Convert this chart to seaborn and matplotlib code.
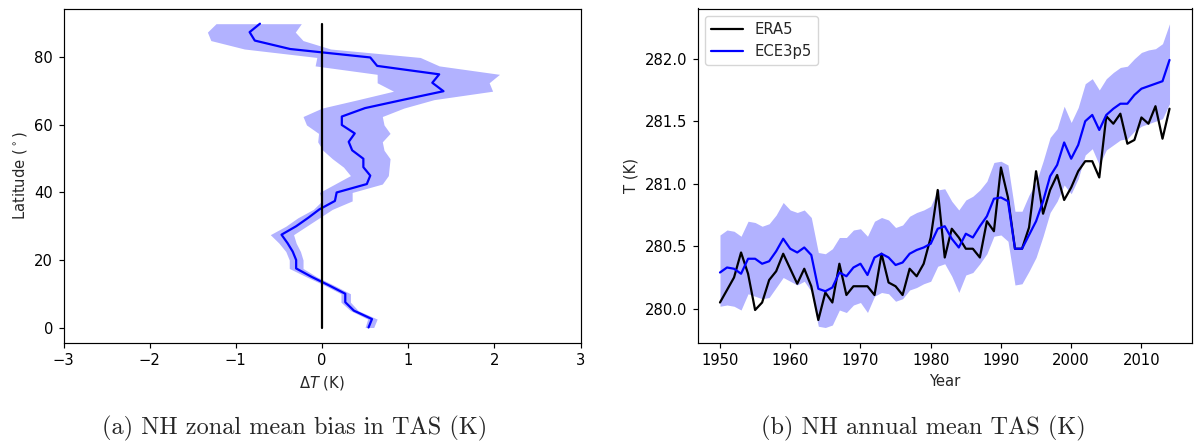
import numpy as np
import pandas as pd
import matplotlib
matplotlib.use("Agg")
import matplotlib.pyplot as plt
import seaborn as sns

# ---- Panel (a): zonal mean bias profile ----
lat = [0, 2.5, 5, 7.5, 10, 12.5, 15, 17.5, 20, 22.5, 25, 27.5, 30, 32.5, 35, 37.5,
       40, 42.5, 45, 47.5, 50, 52.5, 55, 57.5, 60, 62.5, 65, 67.5, 70, 72.5, 75,
       77.5, 80, 82.5, 85, 87.5, 90]
bias_mean = [0.54, 0.58, 0.37, 0.27, 0.27, 0.08, -0.12, -0.30, -0.30, -0.34, -0.40,
             -0.47, -0.30, -0.16, -0.03, 0.15, 0.17, 0.52, 0.56, 0.48, 0.48, 0.35,
             0.31, 0.38, 0.23, 0.23, 0.50, 0.95, 1.41, 1.28, 1.36, 0.64, 0.56,
             -0.37, -0.78, -0.84, -0.72]
bias_low = [0.50, 0.53, 0.33, 0.22, 0.22, 0.03, -0.18, -0.38, -0.38, -0.42, -0.50,
            -0.60, -0.42, -0.28, -0.10, 0.00, -0.03, 0.15, 0.33, 0.25, 0.12, 0.01,
            -0.05, -0.04, -0.18, -0.22, 0.00, 0.42, 0.83, 0.64, 0.64, -0.08, -0.06,
            -0.90, -1.29, -1.33, -1.23]
bias_high = [0.60, 0.64, 0.42, 0.33, 0.33, 0.14, -0.06, -0.22, -0.22, -0.25, -0.30,
             -0.33, -0.18, -0.03, 0.12, 0.35, 0.35, 0.70, 0.77, 0.78, 0.79, 0.72,
             0.70, 0.79, 0.72, 0.70, 0.95, 1.30, 1.98, 1.94, 2.06, 1.36, 1.14,
             0.10, -0.22, -0.31, -0.24]
zero_line_lat = [0, 90]
zero_line_val = [0, 0]

# ---- Panel (b): NH annual mean TAS ----
years = list(range(1950, 2015))
era5 = [280.05, 280.15, 280.25, 280.45, 280.28, 279.99, 280.05, 280.23, 280.30, 280.44,
        280.32, 280.20, 280.32, 280.18, 279.91, 280.13, 280.05, 280.36, 280.11, 280.18,
        280.18, 280.18, 280.11, 280.44, 280.21, 280.18, 280.11, 280.32, 280.26, 280.36,
        280.57, 280.95, 280.41, 280.64, 280.57, 280.48, 280.48, 280.41, 280.70, 280.62,
        281.13, 280.89, 280.48, 280.48, 280.65, 281.10, 280.76, 280.95, 281.07, 280.87,
        280.97, 281.10, 281.18, 281.18, 281.05, 281.54, 281.48, 281.56, 281.32, 281.35,
        281.53, 281.48, 281.62, 281.36, 281.60]
ece = [280.29, 280.33, 280.32, 280.28, 280.40, 280.40, 280.36, 280.38, 280.46, 280.56,
       280.48, 280.45, 280.49, 280.43, 280.16, 280.14, 280.17, 280.29, 280.26, 280.33,
       280.36, 280.27, 280.41, 280.44, 280.41, 280.35, 280.37, 280.44, 280.47, 280.49,
       280.52, 280.64, 280.66, 280.56, 280.49, 280.60, 280.57, 280.66, 280.74, 280.88,
       280.89, 280.86, 280.48, 280.48, 280.59, 280.70, 280.86, 281.06, 281.15, 281.33,
       281.20, 281.31, 281.50, 281.55, 281.43, 281.55, 281.60, 281.64, 281.64, 281.71,
       281.76, 281.78, 281.80, 281.82, 281.99]
ece_low = [280.02, 280.03, 280.02, 279.99, 280.12, 280.10, 280.08, 280.09, 280.17, 280.25,
           280.22, 280.19, 280.22, 280.14, 279.86, 279.85, 279.87, 279.99, 279.97, 280.03,
           280.05, 279.97, 280.10, 280.13, 280.12, 280.06, 280.08, 280.15, 280.17, 280.20,
           280.22, 280.34, 280.36, 280.26, 280.13, 280.27, 280.29, 280.36, 280.44, 280.58,
           280.59, 280.54, 280.19, 280.20, 280.30, 280.41, 280.58, 280.77, 280.86, 280.99,
           280.92, 281.04, 281.23, 281.28, 281.15, 281.27, 281.31, 281.35, 281.36, 281.42,
           281.46, 281.48, 281.50, 281.52, 281.64]
ece_high = [280.59, 280.63, 280.62, 280.58, 280.70, 280.69, 280.66, 280.68, 280.75, 280.85,
            280.79, 280.77, 280.79, 280.73, 280.45, 280.44, 280.48, 280.57, 280.57, 280.63,
            280.64, 280.58, 280.70, 280.73, 280.71, 280.65, 280.67, 280.74, 280.77, 280.79,
            280.82, 280.95, 280.96, 280.86, 280.79, 280.87, 280.90, 280.95, 281.02, 281.17,
            281.18, 281.15, 280.78, 280.78, 280.91, 281.01, 281.18, 281.37, 281.44, 281.62,
            281.49, 281.61, 281.80, 281.84, 281.75, 281.84, 281.89, 281.93, 281.94, 282.00,
            282.05, 282.07, 282.08, 282.12, 282.28]

series_names = ["ERA5", "ECE3p5"]
series_colors = ["black", "blue"]
captions = ["(a) NH zonal mean bias in TAS (K)", "(b) NH annual mean TAS (K)"]

FS = 10.6
sns.set_style("ticks")
plt.rcParams["font.family"] = ["DejaVu Sans"]
plt.rcParams["font.size"] = FS
plt.rcParams["mathtext.fontset"] = "dejavusans"
plt.rcParams["xtick.direction"] = "out"
plt.rcParams["ytick.direction"] = "out"

fig = plt.figure(figsize=(12.02, 4.41), dpi=100)
ax1 = fig.add_axes([63.5 / 1202, 1 - 342.7 / 441, (580.5 - 63.5) / 1202, (342.7 - 8.5) / 441])
ax2 = fig.add_axes([697.5 / 1202, 1 - 342.7 / 441, (1192 - 697.5) / 1202, (342.7 - 8.5) / 441])

for ax in (ax1, ax2):
    for s in ax.spines.values():
        s.set_color("black")
        s.set_linewidth(0.85)
    ax.tick_params(colors="black", length=3.8, width=0.85, pad=3.8, labelsize=FS)

# Panel (a)
dfa = pd.DataFrame({"lat": lat, "mean": bias_mean})
ax1.fill_betweenx(lat, bias_low, bias_high, color="blue", alpha=0.3, linewidth=0)
sns.lineplot(data=dfa, x="mean", y="lat", orient="y", sort=False, color="blue",
             linewidth=1.6, ax=ax1)
sns.lineplot(x=zero_line_val, y=zero_line_lat, orient="y", sort=False, color="black",
             linewidth=1.6, ax=ax1)
ax1.set_xlim(-3, 3)
ax1.set_xticks([-3, -2, -1, 0, 1, 2, 3])
ax1.set_yticks([0, 20, 40, 60, 80])
ax1.set_xlabel(r"$\Delta T$ (K)", fontsize=FS)
ax1.set_ylabel(r"Latitude ($^\circ$)", fontsize=FS)

# Panel (b)
dfb = pd.DataFrame({"Year": years * 2,
                    "T": era5 + ece,
                    "src": [series_names[0]] * len(years) + [series_names[1]] * len(years)})
ax2.fill_between(years, ece_low, ece_high, color="blue", alpha=0.3, linewidth=0)
sns.lineplot(data=dfb, x="Year", y="T", hue="src", palette=dict(zip(series_names, series_colors)),
             linewidth=1.6, ax=ax2)
ax2.set_xticks([1950, 1960, 1970, 1980, 1990, 2000, 2010])
ax2.set_yticks([280.0, 280.5, 281.0, 281.5, 282.0])
ax2.yaxis.set_major_formatter(matplotlib.ticker.FormatStrFormatter("%.1f"))
ax2.set_xlabel("Year", fontsize=FS)
ax2.set_ylabel("T (K)", fontsize=FS)
leg = ax2.legend(loc="upper left", fontsize=FS, frameon=True, handlelength=2.2)
leg.set_title(None)

fig.text(295 / 1202, 1 - 428 / 441, captions[0], ha="center", va="center",
         fontsize=17.5, family="cmr10")
fig.text(923 / 1202, 1 - 428 / 441, captions[1], ha="center", va="center",
         fontsize=17.5, family="cmr10")

fig.savefig("out.png", dpi=100)
